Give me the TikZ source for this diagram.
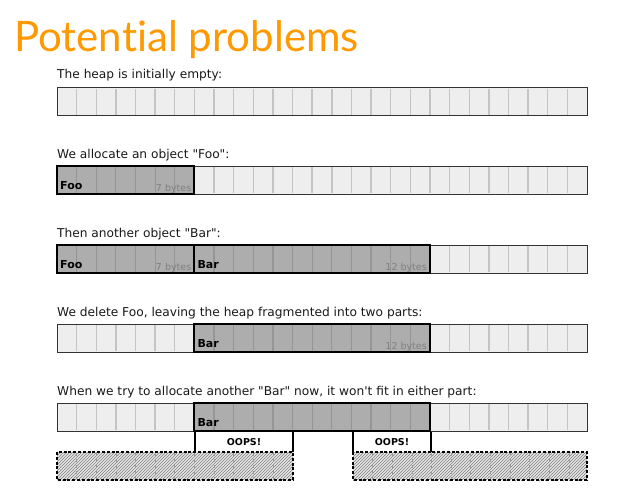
\documentclass[tikz,border=0pt]{standalone}
\usepackage{fontspec}
\setmainfont{DejaVu Sans}[Ligatures=TeXOff]
\newfontfamily\titlefont{Lato}[Ligatures=NoCommon]
\usetikzlibrary{patterns}
\definecolor{ttl}{HTML}{FF9900}
\definecolor{freec}{HTML}{EEEEEE}
\definecolor{usedc}{HTML}{ADADAD}
\definecolor{divfree}{HTML}{C4C4C4}
\definecolor{divused}{HTML}{959595}
\definecolor{hatchbg}{HTML}{E6E6E6}
\tikzset{
  caption/.style={anchor=base west, inner sep=0pt, font=\fontsize{12.2}{14}\selectfont, text=black!90},
  divfreeline/.style={draw=divfree, line width=1.4pt},
  divusedline/.style={draw=divused, line width=1.2pt},
  heapborder/.style={draw=black!80, line width=1pt},
  blockborder/.style={draw=black, line width=2pt},
  objname/.style={anchor=base west, inner sep=0pt, font=\bfseries\fontsize{11}{13}\selectfont},
  bytes/.style={anchor=base east, inner sep=0pt, font=\fontsize{9.5}{11}\selectfont, text=black!50},
  oops/.style={inner sep=0pt, font=\bfseries\fontsize{9.5}{11}\selectfont},
  tick/.style={draw=black, line width=1.8pt},
}
\newcommand{\hcw}{19.63}
% \heaprow{top}
\newcommand{\heaprow}[1]{%
  \fill[freec] (57,#1) rectangle (587,#1+28);
  \foreach \k in {1,...,26} \draw[divfreeline] (57+\k*\hcw,#1+1) -- (57+\k*\hcw,#1+27);
  \draw[heapborder] (57,#1) rectangle (587,#1+28);
}
% \heapblock{top}{startcell}{ncells}{name}{bytes}{nodename}
\newcommand{\heapblock}[6]{%
  \fill[usedc] (57+#2*\hcw,#1) rectangle (57+#2*\hcw+#3*\hcw,#1+28);
  \foreach \k in {1,...,\numexpr#3-1\relax} \draw[divusedline] (57+#2*\hcw+\k*\hcw,#1+1) -- (57+#2*\hcw+\k*\hcw,#1+27);
  \draw[blockborder] (57+#2*\hcw,#1) rectangle (57+#2*\hcw+#3*\hcw,#1+28);
  \node[objname] (#6n) at (57+#2*\hcw+3,#1+23) {#4};
  \node[bytes] (#6b) at (57+#2*\hcw+#3*\hcw-3,#1+25) {#5};
}
\newcommand{\hatchrow}[2]{%
  \fill[hatchbg] (#1,452) rectangle (#2,480);
  \fill[pattern=north east lines, pattern color=black!50] (#1,452) rectangle (#2,480);
  \foreach \k in {1,...,11} \draw[black!40, dashed, line width=0.6pt] (#1+\k*\hcw,453) -- (#1+\k*\hcw,479);
  \draw[black, line width=1.4pt, dash pattern=on 3pt off 1.8pt] (#1,452) rectangle (#2,480);
}
\begin{document}
\begin{tikzpicture}[x=1pt,y=-1pt]
\useasboundingbox (0,0) rectangle (618,492);
\fill[white] (0,0) rectangle (618,492);
\node[anchor=base west, inner sep=0pt, text=ttl, font=\titlefont\fontsize{42}{48}\selectfont] (title) at (14,52) {Potential problems};

\node[caption] (c1) at (57,79) {The heap is initially empty:};
\node[caption] (c2) at (57,158) {We allocate an object "Foo":};
\node[caption] (c3) at (57,237) {Then another object "Bar":};
\node[caption] (c4) at (57,316) {We delete Foo, leaving the heap fragmented into two parts:};
\node[caption] (c5) at (57,395) {When we try to allocate another "Bar" now, it won't fit in either part:};

\heaprow{88}
\heaprow{166}
\heapblock{166}{0}{7}{Foo}{7 bytes}{fooa}
\heaprow{245}
\heapblock{245}{0}{7}{Foo}{7 bytes}{foob}
\heapblock{245}{7}{12}{Bar}{12 bytes}{bara}
\heaprow{324}
\heapblock{324}{7}{12}{Bar}{12 bytes}{barb}
\heaprow{403}
\heapblock{403}{7}{12}{Bar}{}{barc}

% OOPS markers
\draw[tick] (195,432) -- (195,452);
\draw[tick] (293,432) -- (293,452);
\node[oops] (oops1) at (244,442) {OOPS!};
\draw[tick] (353,432) -- (353,452);
\draw[tick] (431,432) -- (431,452);
\node[oops] (oops2) at (392,442) {OOPS!};

% hatched boxes
\hatchrow{57}{293}
\hatchrow{353}{587}
\end{tikzpicture}
\end{document}
